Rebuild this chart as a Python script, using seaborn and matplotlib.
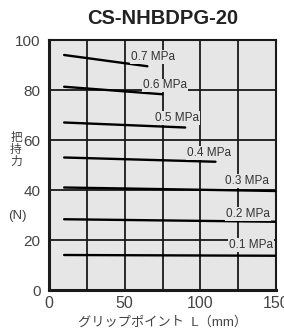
import pandas as pd
import matplotlib
matplotlib.use('Agg')
import matplotlib.pyplot as plt
import seaborn as sns

# gripping force vs grip point, one straight line per supply pressure
pressures = ['0.7 MPa', '0.6 MPa', '0.5 MPa', '0.4 MPa', '0.3 MPa', '0.2 MPa', '0.1 MPa']
x_start = [10, 10, 10, 10, 10, 10, 10]
x_end = [65, 75, 90, 110, 150, 150, 150]
force_start = [94, 81.3, 67, 53, 41, 28.3, 14]
force_end = [89.5, 78.3, 65, 51.3, 39.6, 27.3, 13.7]
label_x = [54, 62, 70, 91, 116.5, 117, 119]
label_y = [93.2, 81.8, 68.8, 54.8, 43.6, 30.4, 18]

rows = []
for p, x0, x1, f0, f1 in zip(pressures, x_start, x_end, force_start, force_end):
    rows.append({'pressure': p, 'L': x0, 'force': f0})
    rows.append({'pressure': p, 'L': x1, 'force': f1})
df = pd.DataFrame(rows)

sns.set_style('white')
fonts = ['Liberation Sans', 'Noto Sans CJK JP', 'DejaVu Sans']
plt.rcParams['font.family'] = fonts
bg = '#e6e6e6'

fig = plt.figure(figsize=(2.84, 3.33), dpi=100)
ax = fig.add_axes([49/284, 43/333, 227/284, 250/333])
ax.set_facecolor(bg)

sns.lineplot(data=df, x='L', y='force', units='pressure', estimator=None,
             color='black', lw=1.7, ax=ax, legend=False, zorder=3)

for p, lx, ly in zip(pressures, label_x, label_y):
    ax.text(lx, ly, p, fontsize=8.5, color='#333333', va='center', ha='left', zorder=4,
            bbox=dict(facecolor=bg, edgecolor='none', pad=0.6))

ax.set_xlim(0, 150)
ax.set_ylim(0, 100)
ax.set_xticks([0, 50, 100, 150])
ax.set_xticks([25, 75, 125], minor=True)
ax.set_yticks([0, 20, 40, 60, 80, 100])
ax.grid(True, which='both', color='#1a1a1a', lw=1.3, zorder=1)
ax.set_axisbelow(True)
ax.tick_params(axis='y', which='major', length=5, width=1.3, color='#1a1a1a',
               labelsize=11, labelcolor='#444444', pad=1)
ax.tick_params(axis='x', which='both', length=0, labelsize=11.5, labelcolor='#444444', pad=4)
for s in ['top', 'right']:
    ax.spines[s].set_color('#1a1a1a')
    ax.spines[s].set_linewidth(1.5)
for s in ['left', 'bottom']:
    ax.spines[s].set_color('#1a1a1a')
    ax.spines[s].set_linewidth(2.2)
ax.set_xlabel('')
ax.set_ylabel('')

fig.text(163/284, 1 - 18/333, 'CS-NHBDPG-20', ha='center', va='center',
         fontsize=14.5, fontweight='bold', color='#222222')
fig.text(16/284, 1 - 150/333, '把\n持\n力', ha='center', va='center',
         fontsize=8.5, color='#444444', linespacing=0.95)
fig.text(17/284, 1 - 216/333, '(N)', ha='center', va='center',
         fontsize=9.5, color='#444444')
fig.text(163/284, 1 - 322/333, 'グリップポイント  L（mm）', ha='center', va='center',
         fontsize=9.5, color='#444444')

fig.savefig('out.png', dpi=100, facecolor='white')
